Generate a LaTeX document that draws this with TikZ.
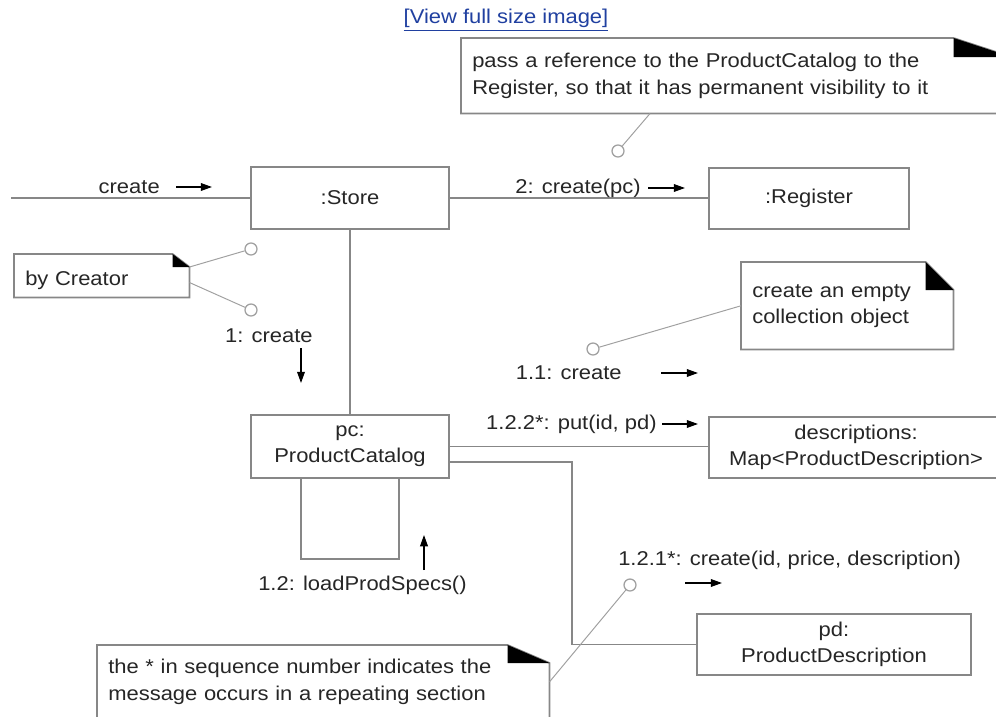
\documentclass[tikz,border=0pt]{standalone}
\usepackage{fontspec}
\setmainfont{Liberation Sans}[FakeStretch=1.1]
\usepackage{tikz}
\usetikzlibrary{positioning, arrows.meta, calc}
\usepackage{xcolor}
\newlength\px
\setlength\px{0.025cm}
\definecolor{boxgray}{RGB}{135,135,135}
\definecolor{notegray}{RGB}{160,160,160}
\definecolor{inkgray}{RGB}{38,38,38}
\definecolor{linkblue}{RGB}{32,64,160}
\tikzset{
  obj/.style={draw=boxgray, line width=1.2pt, fill=white, align=center, inner sep=0pt, text=inkgray},
  assoc/.style={draw=boxgray, line width=1.2pt},
  notebox/.style={align=left, inner xsep=11\px, inner ysep=0pt, text=inkgray},
  noteline/.style={draw=notegray, line width=0.7pt},
  notedot/.style={circle, draw=notegray, line width=0.9pt, fill=white, minimum size=12\px, inner sep=0pt},
  msglabel/.style={inner sep=0pt, text=inkgray},
  msg/.style={draw=black, line width=0.9pt, -{Triangle[length=8pt, width=5.5pt]}},
}
% outline of a note with its folded corner: node, fold width, fold height
\newcommand\dogear[3]{%
  \draw[draw=boxgray, line width=1.2pt] (#1.north west) -- ($(#1.north east)+(-#2,0)$) -- ($(#1.north east)+(0,#3)$) -- (#1.south east) -- (#1.south west) -- cycle;
  \fill[black] ($(#1.north east)+(-#2,0)$) -- ($(#1.north east)+(-#2,#3)$) -- ($(#1.north east)+(0,#3)$) -- cycle;
}

\begin{document}
\begin{tikzpicture}[x=0.025cm, y=-0.025cm, font=\fontsize{14.2}{18.6}\selectfont]
  \useasboundingbox (0,0) rectangle (996,717);
  \clip (0,0) rectangle (996,717);

  \node[text=linkblue] (viewlink) at (506,20) {\underline{[View full size image]}};

  % objects
  \node[obj, minimum width=198\px, minimum height=62\px] (store) at (350,198) {:Store};
  \node[obj, minimum width=200\px, minimum height=61\px] (register) at (809,198.5) {:Register};
  \node[obj, minimum width=198\px, minimum height=63\px] (pc) at (350,446.5) {pc:\\ProductCatalog};
  \node[obj, minimum width=294\px, minimum height=61\px] (descr) at (856,447.5) {descriptions:\\Map<ProductDescription>};
  \node[obj, minimum width=274\px, minimum height=61\px] (pd) at (834,644.5) {pd:\\ProductDescription};

  % links
  \coordinate (entry) at (11,198);
  \draw[assoc] (entry) -- (store);
  \draw[assoc] (store.east) -- (store.east -| register.west);
  \draw[assoc] (store) -- (pc);
  \draw[assoc] (pc.east) -- (pc.east -| descr.west);
  \draw[assoc] ($(pc.east)+(0,15.5)$) -| ($(pd.west)+(-124,0)$) -- (pd.west);
  \draw[assoc] ($(pc.south)+(-49,0)$) -- ++(0,80) -| ($(pc.south)+(49,0)$);

  % messages
  \node[msglabel, anchor=east] (mcreate) at (160,187) {create};
  \draw[msg] ($(mcreate.east)+(16,0)$) -- ++(36,0);
  \node[msglabel, anchor=east] (m2) at (641,188) {2: create(pc)};
  \draw[msg] ($(m2.east)+(7,0)$) -- ++(37,0);
  \node[msglabel, anchor=east] (m1) at (313,336) {1: create};
  \draw[msg] ($(m1.east)+(-12,12)$) -- ++(0,35);
  \node[msglabel, anchor=east] (m11) at (622,373) {1.1: create};
  \draw[msg] ($(m11.east)+(39,0)$) -- ++(37,0);
  \node[msglabel, anchor=east] (m122) at (657,424) {1.2.2*: put(id, pd)};
  \draw[msg] ($(m122.east)+(5,0)$) -- ++(36,0);
  \node[msglabel, anchor=west] (m121) at (618,560) {1.2.1*: create(id, price, description)};
  \draw[msg] ($(m121.west)+(67,23)$) -- ++(37,0);
  \node[msglabel, anchor=west] (m12) at (258,585) {1.2: loadProdSpecs()};
  \draw[msg] ($(m12.west)+(166,-15)$) -- ++(0,-35);

  % notes
  \node[notebox, anchor=north west, minimum height=75\px, text width=528\px] (visnote) at (461,38)
    {pass a reference to the ProductCatalog to the\\Register, so that it has permanent visibility to it};
  \dogear{visnote}{58}{19}
  \node[notebox, anchor=north west, minimum height=43\px, text width=153\px, text height=16.5pt, text depth=3pt] (creator) at (14,254) {by Creator};
  \dogear{creator}{17}{13}
  \node[notebox, anchor=north west, minimum height=87\px, text width=190\px] (empty) at (741,262)
    {create an empty\\collection object};
  \dogear{empty}{28}{28}
  \node[notebox, anchor=north west, minimum height=73\px, text width=430\px] (starnote) at (97,645)
    {the * in sequence number indicates the\\message occurs in a repeating section};
  \dogear{starnote}{42}{18}

  \node[notedot] (c1) at (618,151) {};
  \node[notedot] (c2) at (251,249) {};
  \node[notedot] (c3) at (251,310) {};
  \node[notedot] (c4) at (593,349) {};
  \node[notedot] (c5) at (630,585) {};
  \draw[noteline] ($(visnote.south west)+(189,0)$) -- (c1);
  \draw[noteline] ($(creator.north east)+(0,13)$) -- (c2);
  \draw[noteline] ($(creator.south east)+(0,-15)$) -- (c3);
  \draw[noteline] (empty.west) -- (c4);
  \draw[noteline] (starnote.east) -- (c5);
\end{tikzpicture}
\end{document}
